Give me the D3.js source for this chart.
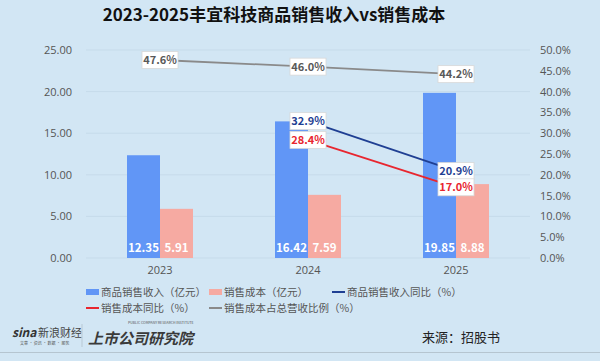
<!DOCTYPE html>
<html>
<head>
<meta charset="utf-8">
<script src="https://cdn.jsdelivr.net/npm/d3@7"></script>
<style>
  body { margin: 0; background: #d2e6f4; }
  svg { display: block; font-family: "Noto Sans CJK SC", "Noto Sans", sans-serif; }
</style>
</head>
<body>
<svg id="chart" width="600" height="361"></svg>
<script>
const years = ['2023', '2024', '2025'];
const revenue = [12.35, 16.42, 19.85];
const cost = [5.91, 7.59, 8.88];
const revenueYoY = [null, 32.9, 20.9];
const costYoY = [null, 28.4, 17.0];
const costRatio = [47.6, 46.0, 44.2];
const leftTicks = [0, 5, 10, 15, 20, 25];
const rightTicks = [0, 5, 10, 15, 20, 25, 30, 35, 40, 45, 50];

const colors = {
    revenue: '#6196f6',
    cost: '#f6aaa2',
    revYoY: '#1f3f93',
    costYoY: '#e8262f',
    ratio: '#8a8a8a'
};

const svg = d3.select('#chart');
const plotLeft = 86, plotRight = 530, plotTop = 50, plotBottom = 258;

svg.append('rect').attr('width', 600).attr('height', 361).attr('fill', '#d2e6f4');

// Title
svg.append('text')
    .attr('x', 274).attr('y', 21)
    .attr('text-anchor', 'middle')
    .style('font-size', '17px').style('font-weight', 'bold').style('fill', '#111')
    .text('2023-2025丰宜科技商品销售收入vs销售成本');

const x = d3.scaleBand().domain(years).range([plotLeft, plotRight]);
const yL = d3.scaleLinear().domain([0, 25]).range([plotBottom, plotTop]);
const yR = d3.scaleLinear().domain([0, 50]).range([plotBottom, plotTop]);

// Gridlines
svg.append('g').selectAll('line')
    .data(leftTicks)
    .enter().append('line')
    .attr('x1', plotLeft).attr('x2', plotRight)
    .attr('y1', d => yL(d)).attr('y2', d => yL(d))
    .style('stroke', '#c6dbea').style('stroke-width', 1);

// Left axis
const axL = svg.append('g')
    .attr('transform', `translate(${plotLeft - 14},0)`)
    .call(d3.axisLeft(yL).tickValues(leftTicks).tickFormat(d3.format('.2f')).tickSize(0).tickPadding(0));
axL.select('.domain').remove();
axL.selectAll('text').style('font-size', '11px').style('fill', '#555')
    .style('font-family', '"Open Sans", "Noto Sans", sans-serif');

// Right axis
const axR = svg.append('g')
    .attr('transform', `translate(${plotRight + 10},0)`)
    .call(d3.axisRight(yR).tickValues(rightTicks).tickFormat(d => d.toFixed(1) + '%').tickSize(0).tickPadding(0));
axR.select('.domain').remove();
axR.selectAll('text').style('font-size', '11px').style('fill', '#555')
    .style('font-family', '"Open Sans", "Noto Sans", sans-serif');

// X axis labels
const axX = svg.append('g')
    .attr('transform', `translate(0,${plotBottom + 8})`)
    .call(d3.axisBottom(x).tickSize(0).tickPadding(0));
axX.select('.domain').remove();
axX.selectAll('text').style('font-size', '11px').style('fill', '#555')
    .style('font-family', '"Open Sans", "Noto Sans", sans-serif');

const bw = 33;
const cx = d => x(d) + x.bandwidth() / 2;

// Bars
const barGroup = svg.append('g');
barGroup.selectAll('.rev')
    .data(years)
    .enter().append('rect')
    .attr('x', d => cx(d) - bw)
    .attr('y', (d, i) => yL(revenue[i]))
    .attr('width', bw)
    .attr('height', (d, i) => plotBottom - yL(revenue[i]))
    .style('fill', colors.revenue);
barGroup.selectAll('.cost')
    .data(years)
    .enter().append('rect')
    .attr('x', d => cx(d))
    .attr('y', (d, i) => yL(cost[i]))
    .attr('width', bw)
    .attr('height', (d, i) => plotBottom - yL(cost[i]))
    .style('fill', colors.cost);

// Bar value labels
years.forEach((d, i) => {
    [[revenue[i], cx(d) - bw / 2], [cost[i], cx(d) + bw / 2]].forEach(([v, px]) => {
        svg.append('text')
            .attr('x', px).attr('y', plotBottom - 6)
            .attr('text-anchor', 'middle')
            .style('font-size', '11.5px').style('font-weight', 'bold').style('fill', '#fff')
            .text(v.toFixed(2));
    });
});

// Lines
const lineSeries = [
    { values: costRatio, color: colors.ratio },
    { values: revenueYoY, color: colors.revYoY },
    { values: costYoY, color: colors.costYoY }
];
const line = d3.line()
    .defined(d => d.v !== null)
    .x(d => cx(d.year))
    .y(d => yR(d.v));

lineSeries.forEach(s => {
    const pts = years.map((y, i) => ({ year: y, v: s.values[i] }));
    svg.append('path')
        .datum(pts)
        .attr('d', line)
        .style('fill', 'none')
        .style('stroke', s.color)
        .style('stroke-width', 1.8);
});

// Line labels (white boxes)
lineSeries.forEach(s => {
    years.forEach((y, i) => {
        const v = s.values[i];
        if (v === null) return;
        const px = cx(y), py = yR(v);
        const g = svg.append('g').attr('transform', `translate(${px},${py})`);
        g.append('rect')
            .attr('x', -18).attr('y', -8.5)
            .attr('width', 36).attr('height', 17)
            .style('fill', '#fff').style('stroke', '#d8d8d8').style('stroke-width', 0.8);
        g.append('text')
            .attr('y', 4)
            .attr('text-anchor', 'middle')
            .style('font-size', '11px').style('font-weight', 'bold')
            .style('fill', s.color === colors.ratio ? '#595959' : s.color)
            .text(v.toFixed(1) + '%');
    });
});

// Legend
const legendItems = [
    { label: '商品销售收入（亿元）', color: colors.revenue, type: 'rect', x: 86, y: 292 },
    { label: '销售成本（亿元）', color: colors.cost, type: 'rect', x: 209, y: 292 },
    { label: '商品销售收入同比（%）', color: colors.revYoY, type: 'line', x: 332, y: 292 },
    { label: '销售成本同比（%）', color: colors.costYoY, type: 'line', x: 86, y: 308 },
    { label: '销售成本占总营收比例（%）', color: colors.ratio, type: 'line', x: 209, y: 308 }
];
legendItems.forEach(item => {
    if (item.type === 'rect') {
        svg.append('rect')
            .attr('x', item.x).attr('y', item.y - 3)
            .attr('width', 13).attr('height', 6)
            .style('fill', item.color);
    } else {
        svg.append('line')
            .attr('x1', item.x).attr('x2', item.x + 13)
            .attr('y1', item.y).attr('y2', item.y)
            .style('stroke', item.color).style('stroke-width', 2);
    }
    svg.append('text')
        .attr('x', item.x + 15).attr('y', item.y + 4)
        .style('font-size', '10.5px').style('fill', '#555')
        .text(item.label);
});

// Footer logos (text approximations)
svg.append('text')
    .attr('x', 12).attr('y', 337)
    .style('font-size', '12px').style('font-weight', 'bold').style('font-style', 'italic')
    .style('fill', '#333')
    .text('sina');
svg.append('text')
    .attr('x', 38).attr('y', 337)
    .style('font-size', '11px').style('fill', '#444')
    .text('新浪财经');
svg.append('text')
    .attr('x', 20).attr('y', 345)
    .style('font-size', '4px').style('fill', '#555')
    .text('文章 · 资讯 · 数据 · 服务');
svg.append('line')
    .attr('x1', 82).attr('x2', 82).attr('y1', 324).attr('y2', 347)
    .style('stroke', '#b8c8d4').style('stroke-width', 1);
svg.append('text')
    .attr('x', 88).attr('y', 344)
    .style('font-size', '15px').style('font-weight', 'bold').style('font-style', 'italic')
    .style('fill', '#3a3a3a')
    .text('上市公司研究院');
svg.append('text')
    .attr('x', 128).attr('y', 324)
    .style('font-size', '3.5px').style('fill', '#555')
    .text('PUBLIC COMPANY RESEARCH INSTITUTE');

svg.append('text')
    .attr('x', 500).attr('y', 342)
    .attr('text-anchor', 'end')
    .style('font-size', '13px').style('fill', '#222')
    .text('来源：招股书');

svg.append('line')
    .attr('x1', 0).attr('x2', 600).attr('y1', 352.5).attr('y2', 352.5)
    .style('stroke', '#b5c5d0').style('stroke-width', 1);
</script>
</body>
</html>
